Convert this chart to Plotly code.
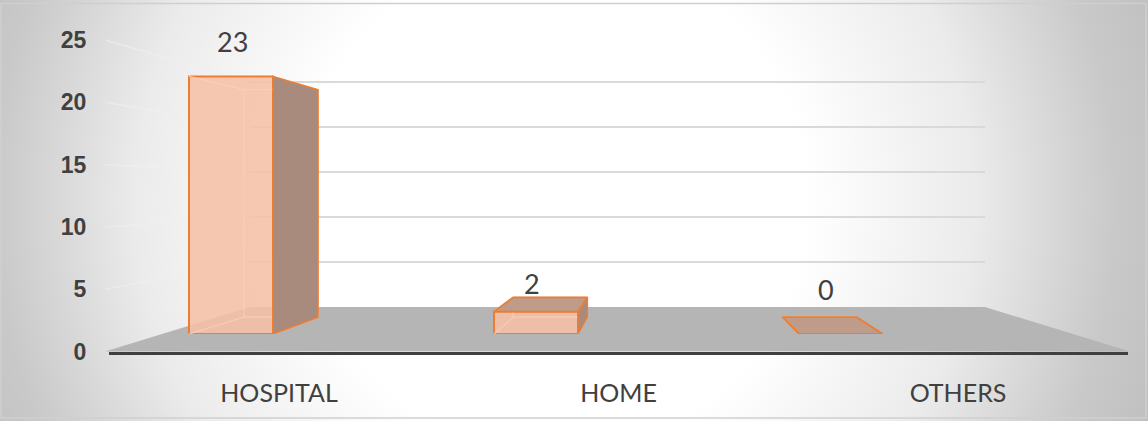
import plotly.graph_objects as go

# ---------------- data ----------------
categories = ["HOSPITAL", "HOME", "OTHERS"]
values = [23, 2, 0]
y_ticks = [0, 5, 10, 15, 20, 25]

# ---------------- layout constants (pixels) ----------------
W, H = 1148, 421
def fx(px): return px / W
def fy(py): return 1 - py / H

# bar (front) axes: 11.2 px per unit, zero at y=334
BAR_ZERO, BAR_PPU = 334, 11.2
BAR_X0, BAR_X1 = 78.5, 993.5
BAR_W = 0.2754
# back wall axes: 9 px per unit, zero at y=307
WALL_ZERO, WALL_PPU = 307, 9.0
WALL_X0, WALL_X1 = 250, 985
# label axes: 12.46 px per unit, zero at y=351.5
LAB_ZERO, LAB_PPU = 351.5, 12.46
LAB_X0, LAB_X1 = 109.25, 1127.75
SIDE_X = 105

# perspective (vanishing point in pixels) and depth
VP_PX = (658, 190)
DEPTH = 0.117

# background radial gradient centre / radius (pixels)
BG_C, BG_R = (555, 200), 700

ORANGE = "#ed7d31"
FRONT = "rgba(246,192,166,0.88)"
SIDE = "#a88b7c"
TOP = "#bf9b89"
TXT = "#404040"

n = len(categories)
cat_px = (BAR_X1 - BAR_X0) / n
xvp = (VP_PX[0] - BAR_X0) / cat_px - 0.5
yvp = (BAR_ZERO - VP_PX[1]) / BAR_PPU

def back(p):
    return (p[0] + DEPTH * (xvp - p[0]), p[1] + DEPTH * (yvp - p[1]))

fig = go.Figure()

# ---------- background subplot (xy) ----------
bx0, bx1 = BG_C[0] - BG_R, BG_C[0] + BG_R
by0, by1 = BG_C[1] - BG_R, BG_C[1] + BG_R
fig.add_trace(go.Scatter(
    x=[bx0, bx1, bx1, bx0, bx0], y=[by0, by0, by1, by1, by0],
    mode="lines", fill="toself",
    fillgradient=dict(type="radial",
                      colorscale=[[0, "#ffffff"], [0.36, "#ffffff"], [0.6, "#ebebeb"],
                                  [0.8, "#c9c9c9"], [1, "#b8b8b8"]]),
    line=dict(width=0), hoverinfo="skip", showlegend=False,
    xaxis="x", yaxis="y"))
# frame
fig.add_trace(go.Scatter(
    x=[1, W - 2, W - 2, 1, 1], y=[3.5, 3.5, H - 3, H - 3, 3.5],
    mode="lines", line=dict(color="#cfcfcf", width=1.5),
    hoverinfo="skip", showlegend=False, xaxis="x", yaxis="y"))
# floor
fig.add_trace(go.Scatter(
    x=[SIDE_X, 1130, WALL_X1, WALL_X0, SIDE_X],
    y=[LAB_ZERO, LAB_ZERO, WALL_ZERO, WALL_ZERO, LAB_ZERO],
    mode="lines", fill="toself", fillcolor="#b5b5b5", line=dict(width=0),
    hoverinfo="skip", showlegend=False, xaxis="x", yaxis="y"))
# side wall lines
for v in y_ticks[1:]:
    fig.add_trace(go.Scatter(
        x=[SIDE_X, WALL_X0], y=[LAB_ZERO - v * LAB_PPU, WALL_ZERO - v * WALL_PPU],
        mode="lines", line=dict(color="rgba(240,240,240,0.55)", width=1.5),
        hoverinfo="skip", showlegend=False, xaxis="x", yaxis="y"))

# ---------- back wall gridlines (x2y2) ----------
fig.add_trace(go.Scatter(x=[0], y=[0], mode="markers", marker=dict(opacity=0),
                         hoverinfo="skip", showlegend=False, xaxis="x2", yaxis="y2"))

# ---------- label axes (x3y3) ----------
fig.add_trace(go.Scatter(x=categories, y=[None] * n, mode="markers",
                         hoverinfo="skip", showlegend=False, xaxis="x3", yaxis="y3"))

# ---------- 3D bars (x4y4) ----------
for i, v in enumerate(values):
    x0, x1 = i - BAR_W / 2, i + BAR_W / 2
    fbl, fbr, ftr, ftl = (x0, 0), (x1, 0), (x1, v), (x0, v)
    bbl, bbr, btr, btl = back(fbl), back(fbr), back(ftr), back(ftl)
    # hidden edges
    pts = [ftl, btl, bbl, fbl, bbl, bbr, fbr, bbr, btr, ftr, btr, btl]
    fig.add_trace(go.Scatter(
        x=[p[0] for p in pts], y=[p[1] for p in pts], mode="lines",
        line=dict(color="rgba(252,205,182,0.9)", width=1.2),
        hoverinfo="skip", showlegend=False, xaxis="x4", yaxis="y4"))
    # side face
    if v > 0:
        if xvp > x1:
            poly = [fbr, ftr, btr, bbr, fbr]
        else:
            poly = [fbl, ftl, btl, bbl, fbl]
        fig.add_trace(go.Scatter(
            x=[p[0] for p in poly], y=[p[1] for p in poly], mode="lines",
            fill="toself", fillcolor=SIDE, line=dict(color=ORANGE, width=1.5),
            hoverinfo="skip", showlegend=False, xaxis="x4", yaxis="y4"))
    # top face
    if v < yvp:
        poly = [ftl, ftr, btr, btl, ftl]
        fig.add_trace(go.Scatter(
            x=[p[0] for p in poly], y=[p[1] for p in poly], mode="lines",
            fill="toself", fillcolor=TOP, line=dict(color=ORANGE, width=1.8),
            hoverinfo="skip", showlegend=False, xaxis="x4", yaxis="y4"))

fig.add_trace(go.Bar(
    x=list(range(n)), y=values, width=BAR_W, hovertext=categories,
    marker=dict(color=FRONT, line=dict(color=ORANGE, width=2)),
    showlegend=False, xaxis="x4", yaxis="y4"))

# data labels
label_dx = [1, -4, -15]
label_dy = [35, 28, 45]
for i, v in enumerate(values):
    fig.add_annotation(x=i, y=v, xref="x4", yref="y4", text=str(v),
                       showarrow=False, xshift=label_dx[i], yshift=label_dy[i],
                       yanchor="middle",
                       font=dict(family="Lato, Open Sans, sans-serif", size=27, color=TXT))

hidden = dict(visible=False, fixedrange=True, automargin=False)
fig.update_layout(
    width=W, height=H, margin=dict(l=0, r=0, t=0, b=0, pad=0, autoexpand=False),
    paper_bgcolor="white", plot_bgcolor="rgba(0,0,0,0)",
    xaxis=dict(domain=[0, 1], range=[0, W], **hidden),
    yaxis=dict(domain=[0, 1], range=[H, 0], **hidden),
    xaxis2=dict(domain=[fx(WALL_X0), fx(WALL_X1)], range=[0, 1], anchor="y2",
                showgrid=False, zeroline=False, showticklabels=False, showline=False,
                automargin=False),
    yaxis2=dict(domain=[fy(WALL_ZERO), fy(20)], range=[0, (WALL_ZERO - 20) / WALL_PPU],
                anchor="x2", tickvals=y_ticks[1:], showgrid=True,
                gridcolor="#d9d9d9", gridwidth=1.5, zeroline=False,
                showticklabels=False, showline=False, automargin=False),
    xaxis3=dict(domain=[fx(LAB_X0), fx(LAB_X1)], range=[-0.5, n - 0.5], anchor="y3",
                type="category", showgrid=False, zeroline=False,
                showline=True, linecolor="#3f3f3f", linewidth=3,
                ticks="", ticklabelstandoff=17, automargin=False,
                tickfont=dict(family="Lato, Open Sans, sans-serif", size=25, color=TXT)),
    yaxis3=dict(domain=[fy(LAB_ZERO), fy(20)], range=[0, (LAB_ZERO - 20) / LAB_PPU],
                anchor="x3", tickvals=y_ticks, showgrid=False, zeroline=False,
                showline=False, ticks="", ticklabelstandoff=22, automargin=False,
                tickfont=dict(family="Liberation Sans, Arial, sans-serif", size=23,
                              color=TXT, weight="bold")),
    xaxis4=dict(domain=[fx(BAR_X0), fx(BAR_X1)], range=[-0.5, n - 0.5], anchor="y4",
                **hidden),
    yaxis4=dict(domain=[fy(BAR_ZERO), fy(20)], range=[0, (BAR_ZERO - 20) / BAR_PPU],
                anchor="x4", **hidden),
)

fig.write_html(
    "out.html",
    config={"displayModeBar": False, "responsive": False},
    post_script=("document.documentElement.style.margin='0';"
                 "document.documentElement.style.overflow='hidden';"
                 "document.body.style.margin='0';"
                 "document.body.style.overflow='hidden';"
                 "document.body.style.height='421px';"),
)
